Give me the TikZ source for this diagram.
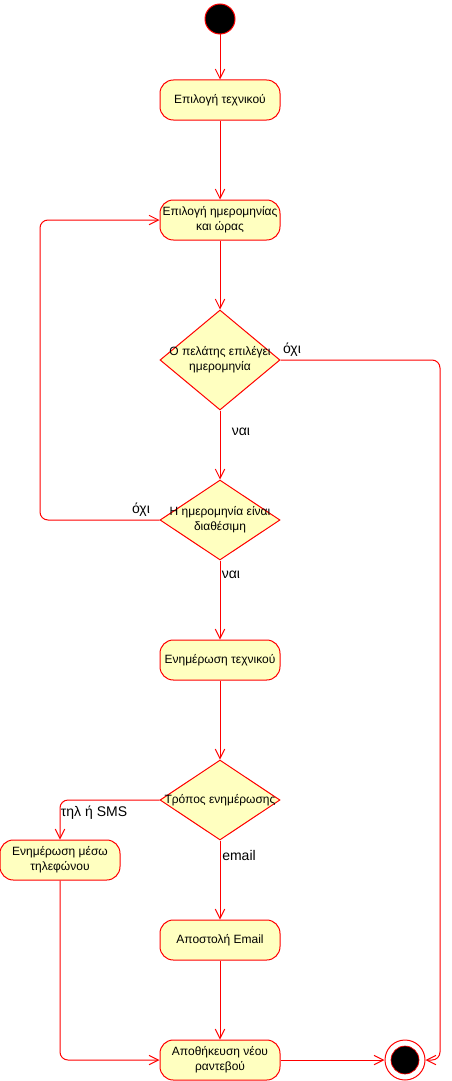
\documentclass[tikz,border=0pt]{standalone}
\usepackage{fontspec}
\setmainfont{Liberation Sans}
\usetikzlibrary{arrows.meta,shapes.geometric}
\definecolor{fillc}{HTML}{FFFFC0}
\definecolor{linec}{HTML}{FF0000}
\begin{document}
\begin{tikzpicture}[x=0.75pt,y=-0.75pt,
  font=\fontsize{9pt}{11pt}\selectfont,
  act/.style={draw=linec,fill=fillc,line width=0.75pt,rounded corners=10pt,
    minimum width=90pt,minimum height=30pt,inner sep=1pt,align=center},
  dia/.style={draw=linec,fill=fillc,line width=0.75pt,diamond,inner sep=0pt,
    minimum width=90pt,minimum height=#1},
  txt/.style={align=center,inner sep=0pt},
  lbl/.style={inner sep=0pt,font=\fontsize{10.5pt}{12pt}\selectfont},
  conn/.style={draw=linec,line width=0.75pt,-{Straight Barb[length=7pt,width=7pt]}},
  ]
\useasboundingbox (0,0) rectangle (451,1081);
% start
\node[circle,draw=linec,fill=black,line width=0.75pt,minimum size=22.5pt,inner sep=0pt] (start) at (220,19) {};
% actions
\node[act] (a1) at (220,100) {Επιλογή τεχνικού};
\node[act] (a2) at (220,220) {Επιλογή ημερομηνίας\\και ώρας};
\node[dia=75pt] (d1) at (220,360) {};
\node[txt] at (d1) {Ο πελάτης επιλέγει\\ημερομηνία};
\node[dia=60pt] (d2) at (220,520) {};
\node[txt] at (d2) {Η ημερομηνία είναι\\διαθέσιμη};
\node[act] (a3) at (220,660) {Ενημέρωση τεχνικού};
\node[dia=60pt] (d3) at (220,800) {};
\node[txt] at (d3) {Τρόπος ενημέρωσης};
\node[act] (a4) at (60,860) {Ενημέρωση μέσω\\τηλεφώνου};
\node[act] (a5) at (220,940) {Αποστολή Email};
\node[act] (a6) at (220,1060) {Αποθήκευση νέου\\ραντεβού};
% final
\node[circle,draw=linec,fill=white,line width=0.75pt,minimum size=30pt,inner sep=0pt] (fin) at (405,1060) {};
\node[circle,draw=linec,fill=black,line width=0.5pt,minimum size=21pt,inner sep=0pt] (fini) at (fin) {};
% waypoints
\coordinate (rp) at (440,360);
\coordinate (lp) at (40,520);
% connectors
\draw[conn] (start) -- (a1);
\draw[conn] (a1) -- (a2);
\draw[conn] (a2) -- (d1.north);
\draw[conn] (d1.south) -- (d2.north);
\draw[conn] (d2.south) -- (a3);
\draw[conn] (a3) -- (d3.north);
\draw[conn] (d3.south) -- (a5);
\draw[conn] (a5) -- (a6);
\draw[conn,rounded corners=6pt] (d1.east) -- (rp) |- (fin.east);
\draw[conn,rounded corners=6pt] (d2.west) -- (lp) |- (a2.west);
\draw[conn,rounded corners=6pt] (d3.west) -| (a4.north);
\draw[conn,rounded corners=6pt] (a4.south) |- (a6.west);
\draw[conn] (a6.east) -- (fin.west);
% labels
\node[lbl] (l1) at (292,350) {όχι};
\node[lbl] (l2) at (241,432) {ναι};
\node[lbl] (l3) at (141,510) {όχι};
\node[lbl] (l4) at (231,575) {ναι};
\node[lbl] (l5) at (94,813) {τηλ ή SMS};
\node[lbl] (l6) at (239,855) {email};
\end{tikzpicture}
\end{document}
